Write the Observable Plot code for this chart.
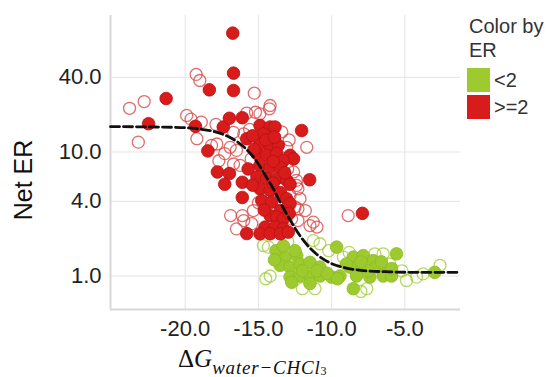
<!DOCTYPE html>
<html><head><meta charset="utf-8">
<script src="https://cdn.jsdelivr.net/npm/d3@7"></script>
<script src="https://cdn.jsdelivr.net/npm/@observablehq/plot@0.6"></script>
<style>body{margin:0;background:#fff;} #chart{position:relative;width:547px;height:377px;}</style>
</head><body><div id="chart"></div>
<script>
// Axis ticks and domains
const xTicks = [-20, -15, -10, -5];
const yTicks = [1, 4, 10, 40];
const xDomain = [-25.1, -1.2];
const yDomain = [0.537, 126];

// Legend categories
const categories = ["<2", ">=2"];
const colors = ["#9dcb2f", "#d81c1c"];

// ER >= 2, filled
const redFilledX = [-16.75,-16.7,-18.35,-16.7,-21.3,-22.5,-19.3,-17.4,-16.98,-16.1,-18.45,-17.8,-16.98,-17.3,-16.1,-16.1,-15.8,-12.05,-11.5,-7.9,
  -14.89,-14.2,-13.87,-14.66,-15.8,-14.89,-14.2,-13.64,-15.1,-14.43,-13.75,-12.84,-12.6,-13.3,-14.89,-14.2,-13.5,-15.7,-15.1,-14.43,-13.75,-13.07,-12.84,-14.89,-14.2,-13.5,-13.07,-14.77,-14.1,-12.84,-13.5,-14.2,-13.75,-13.3,-14.55,-13.87,-13.3,-14.89,-14.2,-13.5,-12.96,
  -15.4,-14.5,-13.9,-15.3,-14.0,-15.4,-14.6,-12.9,-14.0,-13.2];
const redFilledY = [90.8,43.2,31.7,31.3,27,16.9,16.1,15.9,18.7,18.9,10.2,6.9,6.7,5.5,5.7,4.3,2.2,14.9,5.97,3.2,
  16.4,15.9,15.9,14.0,12.8,11.6,10.9,11.3,9.7,9.4,9.7,9.4,8.8,8.5,7.8,7.5,7.5,7.3,6.3,6.1,6.1,5.9,5.5,5.05,4.9,4.7,4.2,4.06,3.94,3.82,3.37,3.07,2.98,2.89,2.48,2.48,2.4,2.19,2.19,2.19,2.26,
  13.5,12.5,13.2,10.5,8.4,5.4,3.4,3.2,5.6,6.8];

// ER >= 2, hollow
const redHollowX = [-19.25,-19.0,-15.28,-22.8,-23.8,-23.2,-19.6,-18.9,-17.9,-15.8,-14.9,-14.25,-19.2,-18.2,-17.7,-16.9,-16.1,-15.45,-11.7,-12.4,-12.3,-11.8,-11.25,-11.0,-8.87,-19.9,-16.7,-16.0,-15.2,-17.84,-16.93,-16.5,-17.3,-16.7,-16.25,-13.07,-12.6,-12.4,-12.3,-12.84,-12.16,-12.73,-12.3,-11.48,-16.0,-15.34,-16.5,-14.2,
  -15.6,-13.4,-12.9,-15.5,-13.0,-14.0,-15.0,-12.5];
const redHollowY = [42.2,37.7,29.8,25.5,22.5,12.0,18.4,17.4,16.7,20.6,20.3,22.3,12.8,11.3,8.5,3.07,3.07,2.64,10.9,5.37,3.48,3.37,2.72,2.48,3.07,19.7,14.4,14.0,20.9,11.6,10.9,10.3,9.7,8.0,7.8,10.9,6.9,5.9,5.05,4.46,4.2,2.89,2.8,2.55,2.8,3.37,2.4,23.7,
  15.2,14.5,12.5,8.8,7.3,3.5,3.9,3.6];

// ER < 2, filled
const greenFilledX = [-9.66,-5.57,-13.18,-12.38,-13.52,-12.84,-12.16,-11.48,-10.8,-12.84,-12.16,-11.48,-10.8,-10.0,-9.43,-12.73,-11.48,-8.52,-7.84,-7.16,-8.75,-7.95,-6.93,-6.25,-8.3,-7.39,-6.48,-5.91,-8.52,-2.96,
  -13.8,-13.3,-12.0,-11.0,-10.3,-9.0,-8.0,-7.5,-6.6,-5.9,-13.9,-12.5,-9.6];
const greenFilledY = [1.71,1.51,1.42,1.46,1.22,1.18,1.25,1.29,1.18,0.98,1.0,1.0,1.0,0.98,1.0,0.89,0.87,1.42,1.46,1.33,1.18,1.18,1.18,1.11,1.0,0.98,1.0,1.0,0.79,1.07,
  1.6,1.75,1.1,1.1,1.05,1.25,1.3,1.1,1.3,1.15,1.35,1.6,0.95];

// ER < 2, hollow
const greenHollowX = [-14.2,-14.66,-14.32,-11.14,-7.6,-7.05,-6.48,-4.89,-4.2,-3.75,-2.6,-10.8,-11.25,-9.2,-6.02,-8.0,-12.0,-14.5,-13.0,-10.2,-8.8,-5.2];
const greenHollowY = [1.0,1.76,1.71,0.79,0.79,1.51,1.51,0.92,0.98,1.04,1.22,1.82,1.93,1.42,1.25,0.75,0.79,0.95,1.9,1.6,1.55,1.1];

// Dashed fitted curve
const curveX = [-25.1,-22,-20,-19,-18,-17,-16,-15,-14.5,-14,-13.5,-13,-12.5,-12,-11.5,-11,-10,-9,-8,-6,-4,-1.3];
const curveY = [16.0,15.9,15.7,15.3,14.6,13.2,11.0,8.0,6.4,5.1,3.9,3.06,2.43,1.99,1.69,1.49,1.26,1.16,1.11,1.08,1.07,1.07];

const zip = (xs, ys) => xs.map((x, i) => ({x, y: ys[i]}));
const redFilled = zip(redFilledX, redFilledY);
const redHollow = zip(redHollowX, redHollowY);
const greenFilled = zip(greenFilledX, greenFilledY);
const greenHollow = zip(greenHollowX, greenHollowY);
const curve = zip(curveX, curveY);

const fmt = d => d.toFixed(1);

const svg = Plot.plot({
  width: 547, height: 377,
  marginLeft: 110, marginRight: 87, marginTop: 15, marginBottom: 68,
  x: {domain: xDomain, axis: null},
  y: {type: "log", domain: yDomain, axis: null},
  style: {fontFamily: "'Liberation Sans', Arial, sans-serif", background: "#fff", color: "#222", overflow: "visible"},
  marks: [
    Plot.ruleX(xTicks, {stroke: "#e4e4e4", strokeWidth: 1}),
    Plot.ruleY(yTicks, {stroke: "#e4e4e4", strokeWidth: 1}),
    Plot.ruleX([xDomain[0]], {stroke: "#d8d8d8", strokeWidth: 2}),
    Plot.ruleY([yDomain[0]], {stroke: "#d8d8d8", strokeWidth: 2}),
    Plot.text(xTicks, {x: d => d, y: yDomain[0], text: fmt, dy: 19, fontSize: 22, fill: "#222"}),
    Plot.text(yTicks, {x: xDomain[0], y: d => d, text: fmt, dx: -9, textAnchor: "end", fontSize: 22, fill: "#222"}),
    Plot.dot(greenHollow, {x: "x", y: "y", r: 6, stroke: colors[0], strokeOpacity: 0.75, strokeWidth: 1.3, fill: "none"}),
    Plot.dot(greenFilled, {x: "x", y: "y", r: 6.3, fill: colors[0], stroke: "#8bbb22", strokeWidth: 0.8}),
    Plot.dot(redHollow, {x: "x", y: "y", r: 6, stroke: "#d84848", strokeOpacity: 0.8, strokeWidth: 1.3, fill: "none"}),
    Plot.dot(redFilled, {x: "x", y: "y", r: 6.3, fill: colors[1], stroke: "#b81010", strokeWidth: 0.8}),
    Plot.line(curve, {x: "x", y: "y", curve: "monotone-x", stroke: "#111", strokeWidth: 2.8, strokeDasharray: "9,4"})
  ]
});

const s = d3.select(svg);
// Y axis title
s.append("text")
  .attr("transform", "translate(32,180) rotate(-90)")
  .attr("text-anchor", "middle")
  .attr("font-size", 25)
  .attr("fill", "#111")
  .text("Net ER");
// X axis title with subscript
const xt = s.append("text")
  .attr("x", 178).attr("y", 367)
  .attr("text-anchor", "start")
  .attr("font-family", "'Liberation Serif', 'Times New Roman', serif")
  .attr("fill", "#111");
xt.append("tspan").attr("font-size", 25).text("Δ");
xt.append("tspan").attr("font-size", 25).attr("font-style", "italic").text("G");
xt.append("tspan").attr("font-size", 19).attr("font-style", "italic").attr("letter-spacing", 0.8).attr("dy", 7).text("water−CHCl");
xt.append("tspan").attr("font-size", 12).attr("dy", 1).text("3");
// Legend
const lg = s.append("g").attr("font-size", 20).attr("fill", "#333").attr("text-anchor", "start");
lg.append("text").attr("x", 469).attr("y", 33).text("Color by");
lg.append("text").attr("x", 469).attr("y", 57).text("ER");
categories.forEach((c, i) => {
  lg.append("rect").attr("x", 467).attr("y", 68 + i * 27).attr("width", 23).attr("height", 24).attr("fill", colors[i]);
  lg.append("text").attr("x", 494).attr("y", 87 + i * 27).text(c);
});

document.getElementById("chart").appendChild(svg);
</script>
</body></html>
